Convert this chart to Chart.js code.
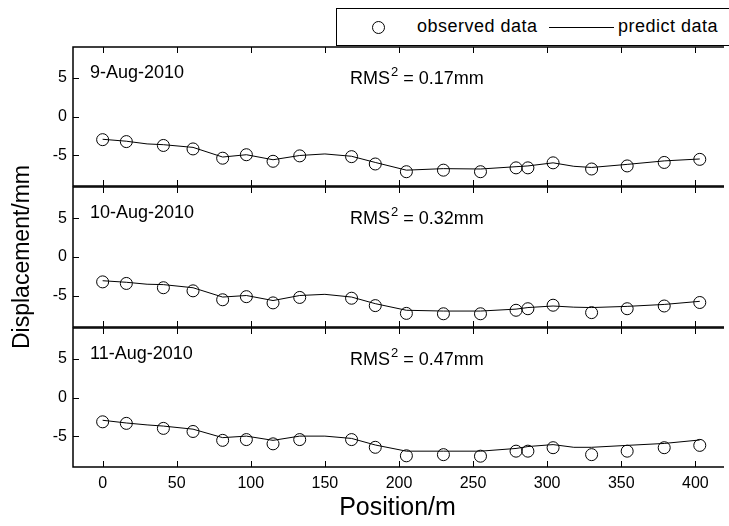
<!DOCTYPE html>
<html>
<head>
<meta charset="utf-8">
<script src="https://cdn.jsdelivr.net/npm/chart.js@4.4.0/dist/chart.umd.min.js"></script>
<style>
  html, body { margin: 0; padding: 0; background: #fff; overflow: hidden; }
  #wrap { position: relative; width: 729px; height: 526px; }
  #wrap canvas { position: absolute; left: 0; top: 0; }
  #legend {
    position: absolute; left: 336px; top: 8px; width: 420px; height: 36px;
    border: 1.5px solid #000; background: #fff;
    font-family: "Liberation Sans", Arial, sans-serif; font-size: 18px; letter-spacing: 0.5px; color: #000;
  }
  #legend .mark { position: absolute; left: 35px; top: 12px; width: 11px; height: 11px; border: 1px solid #000; border-radius: 50%; }
  #legend .txt1 { position: absolute; left: 80px; top: 7px; }
  #legend .line { position: absolute; left: 212px; top: 18px; width: 65px; border-top: 1px solid #000; }
  #legend .txt2 { position: absolute; left: 281px; top: 7px; }
</style>
</head>
<body>
<div id="wrap">
  <canvas id="panel1" width="729" height="526"></canvas>
  <canvas id="panel2" width="729" height="526"></canvas>
  <canvas id="panel3" width="729" height="526"></canvas>
  <div id="legend">
    <div class="mark"></div><span class="txt1">observed data</span>
    <div class="line"></div><span class="txt2">predict data</span>
  </div>
</div>
<script>
// observed points (position in m)
const positions = [0, 16, 41, 61, 81, 97, 115, 133, 168, 184, 205, 230, 255, 279, 287, 304, 330, 354, 379, 403];
const observedAug9 = [-3.0, -3.25, -3.75, -4.2, -5.4, -4.95, -5.8, -5.1, -5.2, -6.15, -7.15, -6.95, -7.15, -6.65, -6.65, -6.0, -6.8, -6.4, -5.95, -5.55];
const observedAug10 = [-3.2, -3.4, -3.95, -4.35, -5.5, -5.1, -5.9, -5.2, -5.3, -6.25, -7.25, -7.3, -7.3, -6.85, -6.65, -6.2, -7.15, -6.65, -6.3, -5.85];
const observedAug11 = [-3.15, -3.35, -4.0, -4.4, -5.55, -5.45, -6.0, -5.45, -5.45, -6.45, -7.55, -7.4, -7.6, -6.95, -6.95, -6.5, -7.4, -6.95, -6.5, -6.2];

// predicted curve
const predictPositions = [0, 16, 30, 41, 61, 81, 97, 115, 133, 150, 168, 184, 205, 230, 255, 279, 287, 304, 318, 330, 354, 379, 403];
const predictAug9 = [-2.95, -3.2, -3.55, -3.65, -4.0, -5.25, -4.95, -5.6, -5.05, -4.85, -5.15, -5.95, -6.95, -6.75, -6.8, -6.5, -6.4, -6.0, -6.45, -6.6, -6.2, -5.75, -5.5];
const predictAug10 = [-3.05, -3.25, -3.5, -3.55, -3.95, -5.15, -4.95, -5.6, -4.95, -4.8, -5.15, -6.0, -6.85, -6.95, -6.95, -6.7, -6.5, -6.3, -6.45, -6.5, -6.35, -6.1, -5.7];
const predictAug11 = [-2.95, -3.3, -3.55, -3.7, -4.1, -5.2, -5.0, -5.55, -5.0, -5.0, -5.3, -6.15, -6.95, -6.95, -6.95, -6.6, -6.35, -6.1, -6.45, -6.45, -6.2, -5.95, -5.5];

const dates = ["9-Aug-2010", "10-Aug-2010", "11-Aug-2010"];
const rmsValues = ["0.17", "0.32", "0.47"];
const xTicks = [0, 50, 100, 150, 200, 250, 300, 350, 400];
const yTicks = [-5, 0, 5];

const FONT = "'Liberation Sans', Arial, sans-serif";

const toPoints = (xs, ys) => xs.map((x, i) => ({ x: x, y: ys[i] }));

// box with inward ticks, plus the date / RMS notes
const framePlugin = {
  id: "frame",
  afterDatasetsDraw(chart, args, opts) {
    const { ctx, chartArea: a, scales } = chart;
    ctx.save();
    ctx.strokeStyle = "#000";
    ctx.lineWidth = 1.5;
    ctx.beginPath();
    ctx.moveTo(a.right + 2, a.top);
    ctx.lineTo(a.left, a.top);
    ctx.lineTo(a.left, a.bottom);
    ctx.lineTo(a.right + 2, a.bottom);
    ctx.stroke();

    ctx.lineWidth = 1;
    ctx.beginPath();
    xTicks.forEach((v) => {
      const px = Math.round(scales.x.getPixelForValue(v)) + 0.5;
      ctx.moveTo(px, a.top);
      ctx.lineTo(px, a.top + 6);
      ctx.moveTo(px, a.bottom);
      ctx.lineTo(px, a.bottom - 6);
    });
    yTicks.forEach((v) => {
      const py = Math.round(scales.y.getPixelForValue(v)) + 0.5;
      ctx.moveTo(a.left, py);
      ctx.lineTo(a.left + 6, py);
    });
    ctx.stroke();

    ctx.fillStyle = "#000";
    ctx.textBaseline = "alphabetic";
    ctx.font = "18px " + FONT;
    ctx.fillText(opts.date, a.left + 17, a.top + 31);

    // RMS with a raised 2
    let tx = a.left + 277;
    const ty = a.top + 37;
    ctx.fillText("RMS", tx, ty);
    tx += ctx.measureText("RMS").width + 1;
    ctx.font = "13px " + FONT;
    ctx.fillText("2", tx, ty - 8);
    tx += ctx.measureText("2").width;
    ctx.font = "18px " + FONT;
    ctx.fillText(" = " + opts.rms + "mm", tx, ty);
    ctx.restore();
  },
};

const makePanel = (id, idx, observed, predict, padTop, padBottom, isBottom, showYTitle) => {
  const ctx = document.getElementById(id).getContext("2d");
  return new Chart(ctx, {
    type: "scatter",
    data: {
      datasets: [
        {
          label: "observed data",
          data: toPoints(positions, observed),
          showLine: false,
          pointStyle: "circle",
          pointRadius: 6,
          pointBorderWidth: 1,
          pointBorderColor: "#000",
          pointBackgroundColor: "rgba(0,0,0,0)",
        },
        {
          label: "predict data",
          data: toPoints(predictPositions, predict),
          showLine: true,
          borderColor: "#000",
          borderWidth: 1,
          pointRadius: 0,
          tension: 0,
        },
      ],
    },
    options: {
      responsive: false,
      animation: false,
      devicePixelRatio: 1,
      layout: { padding: { top: padTop, bottom: padBottom, left: 4, right: 0 } },
      plugins: {
        legend: { display: false },
        tooltip: { enabled: false },
        frame: { date: dates[idx], rms: rmsValues[idx] },
      },
      scales: {
        x: {
          type: "linear",
          min: -20,
          max: 418,
          display: isBottom,
          afterBuildTicks: (scale) => { scale.ticks = xTicks.map((v) => ({ value: v })); },
          afterFit: (scale) => { if (isBottom) scale.height = 59; },
          grid: { display: false, drawTicks: false },
          border: { display: false },
          ticks: { color: "#000", padding: 7, maxRotation: 0, font: { family: FONT, size: 16 } },
          title: {
            display: isBottom,
            text: "Position/m",
            color: "#000",
            padding: { top: 0, bottom: 3 },
            font: { family: FONT, size: 25 },
          },
        },
        y: {
          type: "linear",
          min: -9,
          max: 9,
          afterBuildTicks: (scale) => { scale.ticks = yTicks.map((v) => ({ value: v })); },
          afterFit: (scale) => { scale.width = 69; },
          grid: { display: false, drawTicks: false },
          border: { display: false },
          ticks: { color: "#000", padding: 6, font: { family: FONT, size: 16 } },
          title: {
            display: showYTitle,
            text: "Displacement/mm",
            color: "#000",
            padding: { top: 5, bottom: 0 },
            font: { family: FONT, size: 23 },
          },
        },
      },
    },
    plugins: [framePlugin],
  });
};

makePanel("panel1", 0, observedAug9, predictAug9, 47, 340, false, false);
makePanel("panel2", 1, observedAug10, predictAug10, 187, 199, false, true);
makePanel("panel3", 2, observedAug11, predictAug11, 328, 0, true, false);
</script>
</body>
</html>
